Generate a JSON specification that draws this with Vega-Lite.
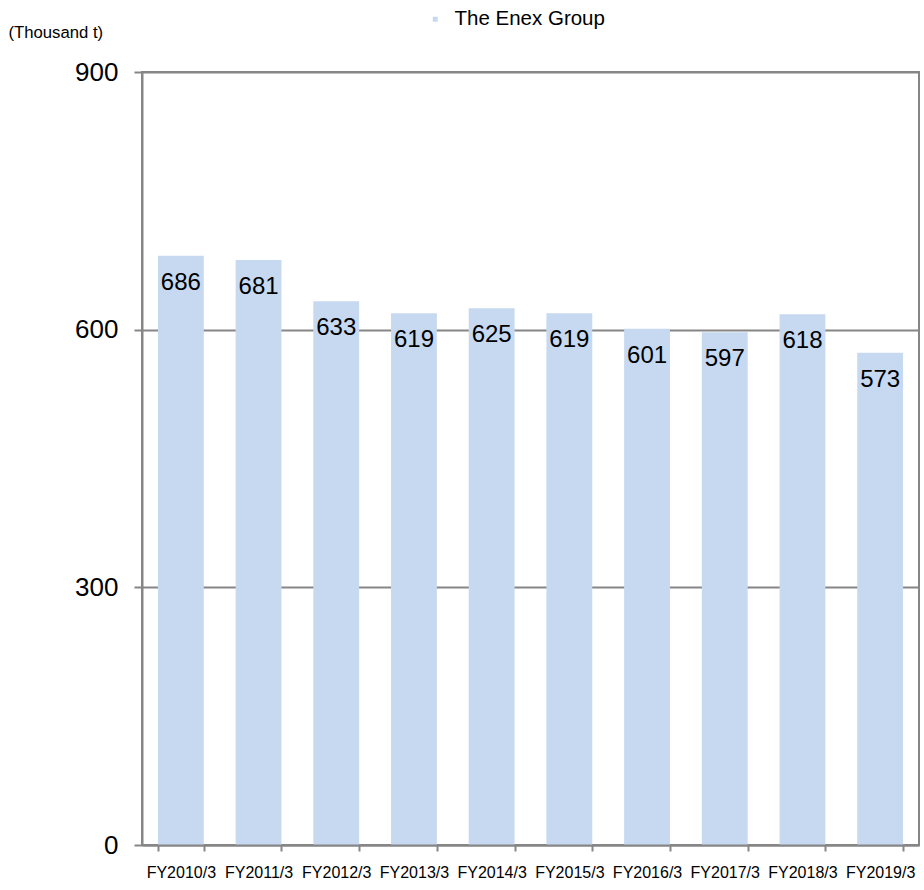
{
  "$schema": "https://vega.github.io/schema/vega-lite/v6.json",
  "width": 777,
  "height": 773,
  "autosize": "none",
  "padding": {"left": 142, "top": 72, "right": 5, "bottom": 45},
  "background": "white",
  "config": {
    "font": "Liberation Sans",
    "view": {"stroke": "#868686", "strokeWidth": 2},
    "axis": {"labelFont": "Liberation Sans", "titleFont": "Liberation Sans", "labelColor": "#000000", "titleColor": "#000000"}
  },
  "data": {
    "values": [
      {"year": "FY2010/3", "value": 686, "series": "The Enex Group"},
      {"year": "FY2011/3", "value": 681, "series": "The Enex Group"},
      {"year": "FY2012/3", "value": 633, "series": "The Enex Group"},
      {"year": "FY2013/3", "value": 619, "series": "The Enex Group"},
      {"year": "FY2014/3", "value": 625, "series": "The Enex Group"},
      {"year": "FY2015/3", "value": 619, "series": "The Enex Group"},
      {"year": "FY2016/3", "value": 601, "series": "The Enex Group"},
      {"year": "FY2017/3", "value": 597, "series": "The Enex Group"},
      {"year": "FY2018/3", "value": 618, "series": "The Enex Group"},
      {"year": "FY2019/3", "value": 573, "series": "The Enex Group"}
    ]
  },
  "encoding": {
    "x": {
      "field": "year",
      "type": "nominal",
      "sort": null,
      "scale": {"paddingInner": 0.41, "paddingOuter": 0.205},
      "axis": {
        "title": null,
        "labelAngle": 0,
        "labelFontSize": 16,
        "labelPadding": 13,
        "tickBand": "extent",
        "tickSize": 6,
        "tickColor": "#868686",
        "tickWidth": 2,
        "domainColor": "#868686",
        "domainWidth": 2,
        "grid": false,
        "zindex": 1
      }
    },
    "y": {
      "field": "value",
      "type": "quantitative",
      "scale": {"domain": [0, 900], "nice": false},
      "axis": {
        "values": [0, 300, 600, 900],
        "title": "(Thousand t)",
        "titleAngle": 0,
        "titleAlign": "left",
        "titleBaseline": "middle",
        "titleX": -134,
        "titleY": -40,
        "titleFontSize": 16.7,
        "titleFontWeight": "normal",
        "labelFontSize": 26,
        "labelPadding": 16,
        "tickSize": 8,
        "tickColor": "#868686",
        "tickWidth": 2,
        "domainColor": "#868686",
        "domainWidth": 2,
        "grid": true,
        "gridColor": "#868686",
        "gridWidth": 2,
        "zindex": 0
      }
    }
  },
  "layer": [
    {
      "mark": {"type": "bar", "opacity": 1},
      "encoding": {
        "color": {
          "field": "series",
          "type": "nominal",
          "scale": {"range": ["#C6D9F1"]},
          "legend": {
            "title": null,
            "orient": "none",
            "legendX": 283,
            "legendY": -63,
            "symbolType": "square",
            "symbolSize": 25,
            "symbolOpacity": 1,
            "labelFontSize": 20.5,
            "labelFont": "Liberation Sans",
            "labelColor": "#000000",
            "labelOffset": 9
          }
        }
      }
    },
    {
      "mark": {"type": "text", "baseline": "alphabetic", "dy": 34, "fontSize": 24, "color": "#000000", "font": "Liberation Sans"},
      "encoding": {
        "text": {"field": "value", "type": "quantitative"}
      }
    }
  ]
}
